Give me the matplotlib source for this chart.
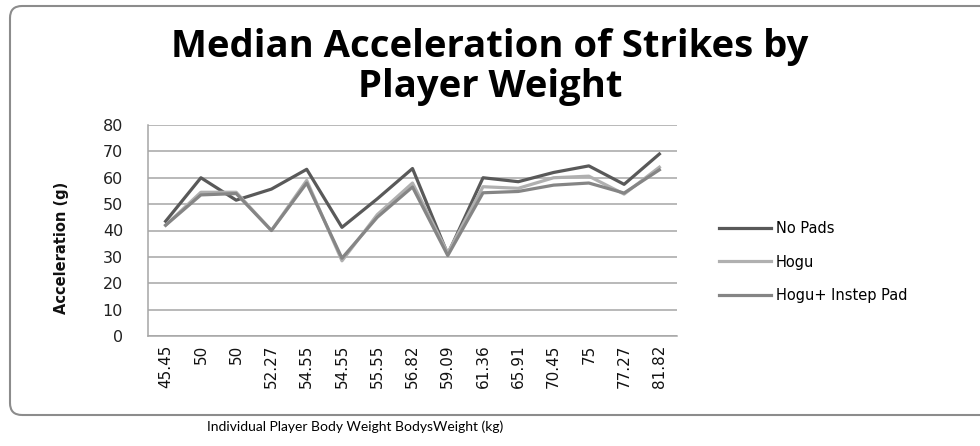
import numpy as np
import matplotlib
matplotlib.use('Agg')
import matplotlib.pyplot as plt
from matplotlib.patches import FancyBboxPatch

weights = ['45.45', '50', '50', '52.27', '54.55', '54.55', '55.55', '56.82',
           '59.09', '61.36', '65.91', '70.45', '75', '77.27', '81.82']
no_pads = [43.5, 60, 51.5, 55.7, 63.2, 41.2, 52, 63.5, 31, 60, 58.5, 62, 64.5, 57.5, 69]
hogu = [42, 54.5, 54.5, 40, 59, 28.5, 46, 58, 31.5, 56.6, 56, 60, 60.6, 53.8, 64]
hogu_instep = [42, 53.5, 54, 40, 58, 29.5, 45, 56.5, 30.5, 54.3, 54.8, 57.2, 58, 54.2, 63]

series_names = ['No Pads', 'Hogu', 'Hogu+ Instep Pad']
y_ticks = [0, 10, 20, 30, 40, 50, 60, 70, 80]

fig = plt.figure(figsize=(9.8, 4.46), dpi=100)

# rounded chart border (pixels), right side runs off the image
box = FancyBboxPatch((10, 31), 1020, 409, boxstyle='round,pad=0,rounding_size=12',
                     transform=None, fill=False, edgecolor='#8c8c8c', linewidth=1.5)
fig.patches.append(box)

ax = fig.add_axes([148/980, 110/446, 529/980, 211/446])
x = np.arange(len(weights))
ax.plot(x, no_pads, color='#595959', linewidth=2.3, label=series_names[0])
ax.plot(x, hogu, color='#b0b0b0', linewidth=2.3, label=series_names[1])
ax.plot(x, hogu_instep, color='#858585', linewidth=2.3, label=series_names[2])

ax.set_xlim(-0.5, len(weights) - 0.5)
ax.set_ylim(0, 80)
ax.set_yticks(y_ticks)
ax.set_yticklabels([str(v) for v in y_ticks], fontsize=11.5, color='#222222')
ax.set_xticks(x)
ax.set_xticklabels(weights, rotation=90, fontsize=11, color='#111111')
ax.tick_params(axis='y', length=0, pad=18)
ax.tick_params(axis='x', length=0, pad=6)
ax.grid(axis='y', color='#a6a6a6', linewidth=1.1)
ax.set_axisbelow(True)
for s in ['top', 'right']:
    ax.spines[s].set_visible(False)
for s in ['left', 'bottom']:
    ax.spines[s].set_color('#a6a6a6')
    ax.spines[s].set_linewidth(1.1)

ax.set_ylabel('Acceleration (g)', fontsize=10.5, fontweight='bold', color='#111111')
ax.yaxis.set_label_coords(-0.149, 0.417)
ax.set_xlabel('Individual Player Body Weight BodysWeight (kg)', fontsize=10, family='Lato')
ax.xaxis.set_label_coords(0.391, -0.400)

fig.text(0.5, 1 - 67/446, 'Median Acceleration of Strikes by\nPlayer Weight', ha='center', va='center',
         fontsize=27.5, fontweight='bold', family='Open Sans', linespacing=1.08)

ax.legend(loc='center left', bbox_to_anchor=(713/980, 1 - 262/446), bbox_transform=fig.transFigure,
          frameon=False, fontsize=10.5, handlelength=3.6, handletextpad=0.3, labelspacing=1.25,
          borderaxespad=0)

fig.savefig('out.png', dpi=100)
